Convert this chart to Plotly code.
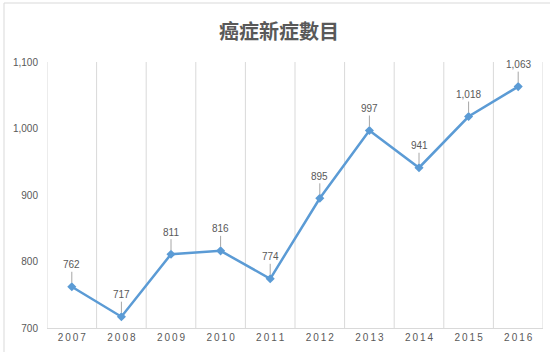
import plotly.graph_objects as go

years = ["2007", "2008", "2009", "2010", "2011", "2012", "2013", "2014", "2015", "2016"]
cases = [762, 717, 811, 816, 774, 895, 997, 941, 1018, 1063]
y_ticks = [700, 800, 900, 1000, 1100]
title_text = "癌症新症數目"

W, H = 550, 352
L, R, T, B = 47, 7, 62, 24
pw, ph = W - L - R, H - T - B

xs = list(range(len(years)))
fig = go.Figure()
fig.add_trace(go.Scatter(
    x=xs, y=cases, mode="lines+markers",
    line=dict(color="#5B9BD5", width=2.5),
    marker=dict(symbol="diamond", size=7, color="#5B9BD5"),
    hoverinfo="skip", showlegend=False,
))

annotations = []
for x, v in zip(xs, cases):
    annotations.append(dict(
        x=x, y=v, xref="x", yref="y", text=f"{v:,}",
        showarrow=True, arrowhead=0, arrowwidth=1, arrowcolor="#A6A6A6",
        ax=0, ay=-22, standoff=4,
        font=dict(family="Liberation Sans, Arial", size=10, color="#595959"),
    ))
annotations.append(dict(
    x=(279 - L) / pw, y=(H - 31 - B) / ph, xref="paper", yref="paper", text=f"<b>{title_text}</b>",
    showarrow=False, xanchor="center", yanchor="middle",
    font=dict(family="Noto Sans CJK TC", size=20, color="#595959"),
))

gridlines = []
for i in range(len(years) + 1):
    gridlines.append(dict(type="line", xref="x", yref="paper", x0=i - 0.5, x1=i - 0.5,
                          y0=0, y1=1, line=dict(color="#D9D9D9", width=1), layer="below"))
# outer chart border
gridlines.append(dict(type="rect", xref="paper", yref="paper",
                      x0=(4 - L) / pw, x1=(W + 10 - L) / pw,
                      y0=-(H + 10 - (H - B)) / ph, y1=(H - B - 3) / ph,
                      line=dict(color="#D9D9D9", width=1)))

fig.update_layout(
    width=W, height=H,
    margin=dict(l=L, r=R, t=T, b=B),
    paper_bgcolor="white", plot_bgcolor="white",
    shapes=gridlines, annotations=annotations,
    xaxis=dict(range=[-0.5, len(years) - 0.5], tickvals=xs,
               ticktext=["\u2009".join(y) for y in years],
               showgrid=False, zeroline=False, showline=True, linecolor="#D9D9D9",
               ticks="", tickfont=dict(family="Liberation Sans, Arial", size=10, color="#595959")),
    yaxis=dict(range=[700, 1100], tickvals=y_ticks, tickformat=",",
               showgrid=False, zeroline=False, showline=False, ticks="",
               ticklabelstandoff=8,
               tickfont=dict(family="Liberation Sans, Arial", size=10, color="#595959")),
)
fig.write_html("out.html")
